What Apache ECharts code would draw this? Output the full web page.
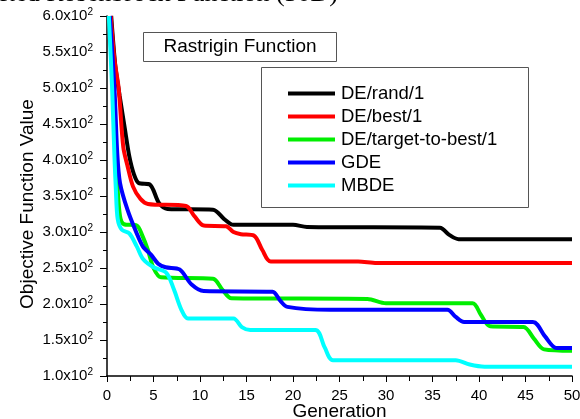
<!DOCTYPE html>
<html>
<head>
<meta charset="utf-8">
<script src="https://cdn.jsdelivr.net/npm/echarts@6/dist/echarts.min.js"></script>
<style>
  html, body { margin: 0; padding: 0; background: #fff; }
  #chart { width: 580px; height: 419px; }
</style>
</head>
<body>
<div id="chart"></div>
<script>
// 曲线数据 [generation, value]
var seriesNames = ['DE/rand/1', 'DE/best/1', 'DE/target-to-best/1', 'GDE', 'MBDE'];
var seriesColors = ['#000000', '#ff0000', '#00ee00', '#0000ff', '#00ffff'];

var deRand = [[0.45,600],[0.9,530],[1.35,490],[1.9,445],[2.4,405],[2.9,380],[3.4,368],[4.6,366],[5.6,340],[6.5,332],[11.4,331],[12.6,318],[13.6,310],[20,310],[21.5,307],[35.8,306],[36.8,296],[37.8,290],[50,290]];
var deBest = [[0.4,600],[0.8,540],[1.25,500],[1.75,418],[2.2,392],[2.8,363],[3.6,346],[4.4,339],[8.5,336],[9.4,322],[10.4,309],[12.8,308],[13.6,300],[14.4,297],[15.8,295],[16.7,275],[17.6,259],[27,259],[29,257],[50,257]];
var deTtb = [[0.25,600],[0.65,500],[0.9,410],[1.1,368],[1.4,322],[1.8,311],[3.2,309],[3.8,295],[4.4,275],[5.0,250],[5.8,237],[11.4,235],[12.4,220],[13.4,208],[28,207],[30,201],[39.3,201],[40.2,185],[41.2,169],[44.8,168],[45.9,152],[47,137],[50,135]];
var gde = [[0.3,600],[0.8,500],[1.1,410],[1.4,368],[2.2,331],[3.2,298],[3.9,279],[4.7,269],[5.5,256],[6.3,251],[7.8,248],[9.1,227],[10.4,218],[17.8,217],[18.6,205],[19.4,196],[24,192],[36.6,192],[37.5,182],[38.4,175],[45.8,175],[47.1,155],[48.3,139],[50,139]];
var mbde = [[0.2,600],[0.55,500],[0.8,405],[0.95,360],[1.15,318],[1.6,303],[2.4,298],[3.2,280],[3.9,262],[5,251],[6.4,243],[7.2,220],[8.0,192],[8.7,180],[13.6,180],[14.5,168],[15.4,164],[22.4,164],[23.4,140],[24.3,122],[37.5,122],[39,116],[40.6,113],[50,113]];

var allData = [deRand, deBest, deTtb, gde, mbde];

var series = [];
for (var i = 0; i < allData.length; i++) {
	series.push({
		name: seriesNames[i],
		type: 'line',
		data: allData[i],
		showSymbol: false,
		smooth: 0.3,
		lineStyle: { color: seriesColors[i], width: 4 },
		itemStyle: { color: seriesColors[i] }
	});
}

var font = 'Liberation Sans, Arial, sans-serif';

var option = {
	animation: false,
	textStyle: { fontFamily: font },
	grid: { left: 107, right: 8, top: 16, bottom: 43, outerBoundsMode: 'none' },
	legend: {
		orient: 'vertical',
		left: 288,
		top: 84,
		padding: 0,
		itemGap: 4,
		itemWidth: 47,
		itemHeight: 4,
		icon: 'rect',
		textStyle: { fontSize: 18.5, lineHeight: 18, color: '#000', fontFamily: font, padding: [0, 0, 0, 1] },
		data: seriesNames
	},
	xAxis: {
		type: 'value',
		min: 0,
		max: 50,
		interval: 5,
		name: 'Generation',
		nameLocation: 'middle',
		nameGap: 26,
		nameMoveOverlap: false,
		nameTextStyle: { fontSize: 19, color: '#000' },
		axisLine: { lineStyle: { color: '#000', width: 1.5 } },
		axisTick: { length: 6, lineStyle: { color: '#000' } },
		minorTick: { show: true, splitNumber: 2, length: 5, lineStyle: { color: '#000' } },
		axisLabel: { fontSize: 15, color: '#000', margin: 12 },
		splitLine: { show: false }
	},
	yAxis: {
		type: 'value',
		min: 100,
		max: 600,
		interval: 50,
		name: 'Objective Function Value',
		nameLocation: 'middle',
		nameGap: 70,
		nameMoveOverlap: false,
		nameTextStyle: { fontSize: 19, color: '#000', padding: [0, 16, 0, 0] },
		axisLine: { show: true, lineStyle: { color: '#000', width: 1.5 } },
		axisTick: { length: 7, lineStyle: { color: '#000' } },
		minorTick: { show: true, splitNumber: 2, length: 4, lineStyle: { color: '#000' } },
		axisLabel: {
			margin: 14,
			color: '#000',
			formatter: function (v) {
				return '{b|' + (v / 100).toFixed(1) + 'x10}{s|2}';
			},
			rich: {
				b: { fontSize: 15, lineHeight: 18, color: '#000' },
				s: { fontSize: 10, lineHeight: 10, verticalAlign: 'top', color: '#000' }
			}
		},
		splitLine: { show: false }
	},
	graphic: [
		{
			type: 'text',
			x: 338,
			y: 7,
			style: { text: 'Shifted Rosenbrock Function (30D)', font: '26px "Liberation Serif", serif', fill: '#000', align: 'right', verticalAlign: 'bottom' }
		},
		{
			type: 'rect',
			shape: { x: 143.5, y: 32.5, width: 193, height: 29 },
			style: { fill: 'none', stroke: '#555', lineWidth: 1 }
		},
		{
			type: 'text',
			x: 240,
			y: 47,
			style: { text: 'Rastrigin Function', font: '19px ' + font, fill: '#000', align: 'center', verticalAlign: 'middle' }
		},
		{
			type: 'rect',
			shape: { x: 261.5, y: 67.5, width: 267, height: 140 },
			style: { fill: 'none', stroke: '#555', lineWidth: 1 }
		}
	],
	series: series
};

var myChart = echarts.init(document.getElementById('chart'));
myChart.setOption(option);
</script>
</body>
</html>
